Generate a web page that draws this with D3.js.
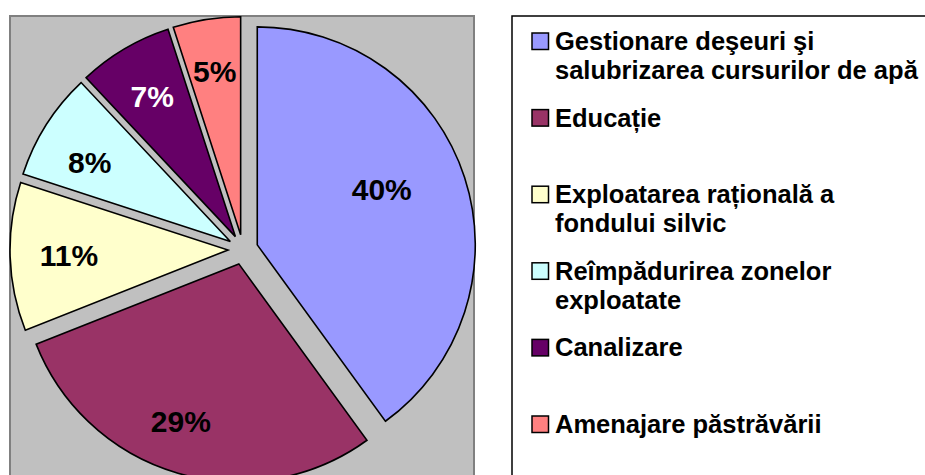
<!DOCTYPE html>
<html>
<head>
  <meta charset="utf-8">
  <script src="https://d3js.org/d3.v7.min.js"></script>
  <style>
  body { margin: 0; background: #fff; }
  svg { display: block; }
  text { font-family: Arial, 'Liberation Sans', sans-serif; font-weight: bold; }
  </style>
</head>
<body>
<svg id="chart" width="925" height="475"></svg>
<script>
  // data
  var categories = ["Gestionare deşeuri şi salubrizarea cursurilor de apă", "Educație",
    "Exploatarea rațională a fondului silvic", "Reîmpădurirea zonelor exploatate",
    "Canalizare", "Amenajare păstrăvării"];
  var legendLines = [
    ["Gestionare deşeuri şi", "salubrizarea cursurilor de apă"],
    ["Educație"],
    ["Exploatarea rațională a", "fondului silvic"],
    ["Reîmpădurirea zonelor", "exploatate"],
    ["Canalizare"],
    ["Amenajare păstrăvării"]
  ];
  var values = [40, 29, 11, 8, 7, 5];
  var sliceColors = ["#9999FF", "#993366", "#FFFFCC", "#CCFFFF", "#660066", "#FF8080"];
  var labelColors = ["#000", "#000", "#000", "#000", "#fff", "#000"];
  // label placement tweaks (fraction of radius, angle nudge in degrees) - excel "best fit"
  var labelRadius = [0.625, 0.77, 0.73, 0.74, 0.75, 0.76];
  var labelNudge = [-6, 4, 0, -3, 0, 0];

  var svg = d3.select("#chart");
  var cx = 243, cy = 249.5, radius = 218, explode = 15;

  // gray plot area
  svg.append("rect")
    .attr("x", 10).attr("y", 16)
    .attr("width", 464).attr("height", 475)
    .attr("fill", "#C0C0C0")
    .attr("stroke", "#808080").attr("stroke-width", 2);

  var pie = d3.pie().sort(null).value(function(d) { return d; });
  var arcs = pie(values);
  var arc = d3.arc().innerRadius(0).outerRadius(radius);
  var total = d3.sum(values);

  var slices = svg.append("g").selectAll("g")
    .data(arcs)
    .enter().append("g")
    .attr("transform", function(d) {
      var mid = (d.startAngle + d.endAngle) / 2;
      return "translate(" + (cx + explode * Math.sin(mid)) + "," + (cy - explode * Math.cos(mid)) + ")";
    });

  slices.append("path")
    .attr("d", arc)
    .attr("fill", function(d, i) { return sliceColors[i]; })
    .attr("stroke", "#000")
    .attr("stroke-width", 1.6)
    .attr("stroke-linejoin", "miter");

  slices.append("text")
    .attr("transform", function(d, i) {
      var a = (d.startAngle + d.endAngle) / 2 + labelNudge[i] * Math.PI / 180;
      var r = radius * labelRadius[i];
      return "translate(" + (r * Math.sin(a)) + "," + (-r * Math.cos(a)) + ")";
    })
    .attr("text-anchor", "middle")
    .attr("dy", "0.36em")
    .style("font-size", "30px")
    .attr("fill", function(d, i) { return labelColors[i]; })
    .text(function(d) { return Math.round(d.data / total * 100) + "%"; });

  // legend
  var legend = svg.append("g");
  legend.append("rect")
    .attr("x", 512).attr("y", 16)
    .attr("width", 500).attr("height", 500)
    .attr("fill", "#fff")
    .attr("stroke", "#000").attr("stroke-width", 1.5);

  var yLeg = d3.scaleLinear().domain([0, categories.length - 1]).range([50, 433]);

  var items = legend.selectAll("g.item")
    .data(legendLines)
    .enter().append("g")
    .attr("class", "item")
    .attr("transform", function(d, i) { return "translate(0," + yLeg(i) + ")"; });

  items.append("rect")
    .attr("x", 532).attr("y", -17)
    .attr("width", 16.5).attr("height", 16.5)
    .attr("fill", function(d, i) { return sliceColors[i]; })
    .attr("stroke", "#000").attr("stroke-width", 1.5);

  items.append("text")
    .attr("x", 555)
    .style("font-size", "25.5px")
    .attr("fill", "#000")
    .selectAll("tspan")
    .data(function(d) { return d; })
    .enter().append("tspan")
    .attr("x", 555)
    .attr("y", function(d, j) { return j * 29; })
    .text(function(d) { return d; });
</script>
</body>
</html>
